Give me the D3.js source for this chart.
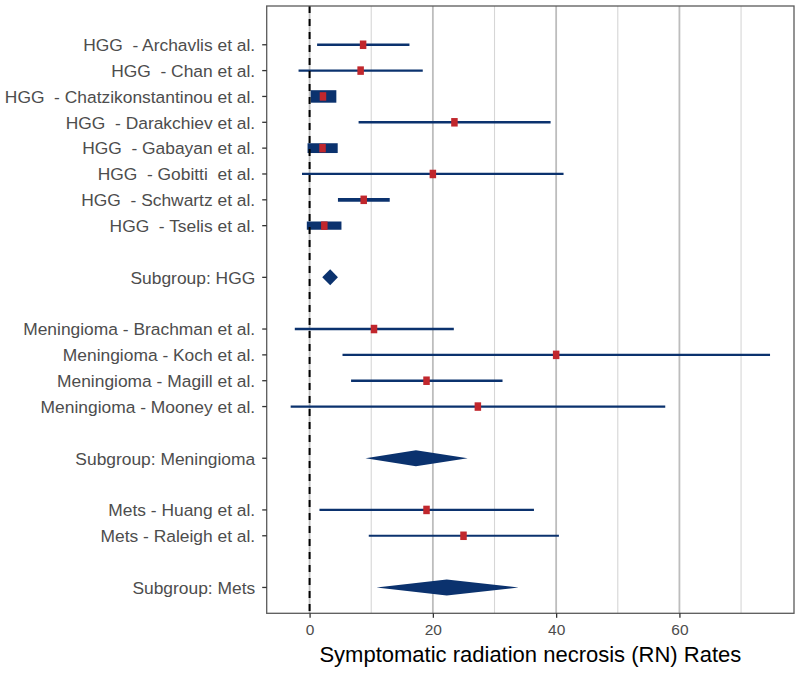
<!DOCTYPE html>
<html>
<head>
<meta charset="utf-8">
<script src="https://cdn.jsdelivr.net/npm/d3@7"></script>
<style>
  html, body { margin: 0; padding: 0; background: #fff; }
  svg { display: block; font-family: "Liberation Sans", Arial, Helvetica, sans-serif; }
</style>
</head>
<body>
<svg id="chart" width="800" height="673"></svg>
<script>
// ---- data (row order top to bottom, "" = blank spacer row) ----
const labels = [
  "HGG  - Archavlis et al.",
  "HGG  - Chan et al.",
  "HGG  - Chatzikonstantinou et al.",
  "HGG  - Darakchiev et al.",
  "HGG  - Gabayan et al.",
  "HGG  - Gobitti  et al.",
  "HGG  - Schwartz et al.",
  "HGG  - Tselis et al.",
  "",
  "Subgroup: HGG",
  "",
  "Meningioma - Brachman et al.",
  "Meningioma - Koch et al.",
  "Meningioma - Magill et al.",
  "Meningioma - Mooney et al.",
  "",
  "Subgroup: Meningioma",
  "",
  "Mets - Huang et al.",
  "Mets - Raleigh et al.",
  "",
  "Subgroup: Mets"
];
// "study" or "subgroup" for each non-blank row
const rowType = ["study","study","study","study","study","study","study","study",null,"subgroup",null,
  "study","study","study","study",null,"subgroup",null,"study","study",null,"subgroup"];
const estimates = [8.68, 8.28, 2.17, 23.5, 2.1, 20.0, 8.78, 2.39, null, 3.34, null,
  10.45, 40.0, 18.97, 27.3, null, 17.25, null, 18.97, 24.97, null, 22.25];
const lowers = [1.22, -1.79, 0.17, 7.95, -0.33, -1.23, 4.6, -0.45, null, 2.05, null,
  -2.4, 5.34, 6.73, -3.07, null, 9.07, null, 1.6, 9.6, null, 10.85];
const uppers = [16.2, 18.36, 4.34, 39.1, 4.56, 41.2, 13.0, 5.17, null, 4.6, null,
  23.4, 74.7, 31.3, 57.7, null, 25.65, null, 36.4, 40.45, null, 33.9];
// relative study weight (drives interval thickness)
const weights = [1, 1, 5.1, 1, 4, 0.9, 1.5, 3.4, null, null, null,
  1, 1, 1, 0.9, null, null, null, 0.9, 0.9, null, null];
const xTicksMajor = [0, 20, 40, 60];
const xTicksMinor = [10, 30, 50, 70];
const xTitle = "Symptomatic radiation necrosis (RN) Rates";

// ---- layout ----
const W = 800, H = 673;
const panel = {left: 266.7, right: 794, top: 6, bottom: 613.3};
const navy = "#0b326e", red = "#c1272d";

const svg = d3.select("#chart");

const rows = labels.map((l, i) => ({
  i, label: l, type: rowType[i], est: estimates[i], lo: lowers[i], hi: uppers[i], w: weights[i]
}));
const data = rows.filter(r => r.type);
const studies = data.filter(r => r.type === "study");
const subgroups = data.filter(r => r.type === "subgroup");

// x scale with 5% expansion like ggplot
const dmin = d3.min(data, d => d.lo), dmax = d3.max(data, d => d.hi);
const pad = (dmax - dmin) * 0.05;
const x = d3.scaleLinear().domain([dmin - pad, dmax + pad]).range([panel.left, panel.right]);
// y scale by row index
const y = d3.scaleLinear().domain([-1.5, 22]).range([panel.top, panel.bottom]);
const lw = d3.scaleLinear().domain([0, 1]).range([0, 2.45]);

// gridlines
const g = svg.append("g");
g.selectAll("line.minor").data(xTicksMinor).join("line")
  .attr("x1", d => x(d)).attr("x2", d => x(d))
  .attr("y1", panel.top).attr("y2", panel.bottom)
  .attr("stroke", "#d6d6d6").attr("stroke-width", 1.1);
g.selectAll("line.major").data(xTicksMajor).join("line")
  .attr("x1", d => x(d)).attr("x2", d => x(d))
  .attr("y1", panel.top).attr("y2", panel.bottom)
  .attr("stroke", "#bdbdbd").attr("stroke-width", 1.8);

// study intervals
svg.append("g").selectAll("line").data(studies).join("line")
  .attr("x1", d => x(d.lo)).attr("x2", d => x(d.hi))
  .attr("y1", d => y(d.i)).attr("y2", d => y(d.i))
  .attr("stroke", navy).attr("stroke-width", d => lw(d.w));

// reference line at 0
svg.append("line")
  .attr("x1", x(0)).attr("x2", x(0))
  .attr("y1", panel.top).attr("y2", panel.bottom)
  .attr("stroke", "#000").attr("stroke-width", 2)
  .attr("stroke-dasharray", "7,6");

// point estimates
const pw = 6.5, ph = 8.5;
svg.append("g").selectAll("rect").data(studies).join("rect")
  .attr("x", d => x(d.est) - pw / 2).attr("y", d => y(d.i) - ph / 2)
  .attr("width", pw).attr("height", ph)
  .attr("fill", red);

// subgroup diamonds
const dh = 8;
svg.append("g").selectAll("path").data(subgroups).join("path")
  .attr("d", d => {
    const yc = y(d.i);
    return `M${x(d.lo)},${yc}L${x(d.est)},${yc - dh}L${x(d.hi)},${yc}L${x(d.est)},${yc + dh}Z`;
  })
  .attr("fill", navy);

// panel border
svg.append("rect")
  .attr("x", panel.left).attr("y", panel.top)
  .attr("width", panel.right - panel.left).attr("height", panel.bottom - panel.top)
  .attr("fill", "none").attr("stroke", "#5a5a5a").attr("stroke-width", 1.3);

// y axis: ticks and labels
const yAxisG = svg.append("g");
yAxisG.selectAll("line").data(data).join("line")
  .attr("x1", panel.left - 4.5).attr("x2", panel.left)
  .attr("y1", d => y(d.i)).attr("y2", d => y(d.i))
  .attr("stroke", "#333").attr("stroke-width", 1.3);
yAxisG.selectAll("text").data(data).join("text")
  .attr("x", panel.left - 11.5).attr("y", d => y(d.i))
  .attr("dy", "0.36em")
  .attr("text-anchor", "end")
  .style("white-space", "pre")
  .attr("font-size", "17.4px")
  .attr("fill", "#4d4d4d")
  .text(d => d.label);

// x axis
const xAxisG = svg.append("g").attr("transform", `translate(0,${panel.bottom})`)
  .call(d3.axisBottom(x).tickValues(xTicksMajor).tickSize(4.5).tickPadding(6.5).tickFormat(d3.format("d")));
xAxisG.select(".domain").remove();
xAxisG.selectAll(".tick line").attr("stroke", "#333").attr("stroke-width", 1.3);
xAxisG.selectAll(".tick text")
  .attr("fill", "#4d4d4d").attr("font-size", "15.5px")
  .attr("font-family", "Liberation Sans, Arial, sans-serif");

// x title
svg.append("text")
  .attr("x", (panel.left + panel.right) / 2).attr("y", 662)
  .attr("text-anchor", "middle")
  .attr("font-size", "22px").attr("fill", "#000")
  .text(xTitle);
</script>
</body>
</html>
